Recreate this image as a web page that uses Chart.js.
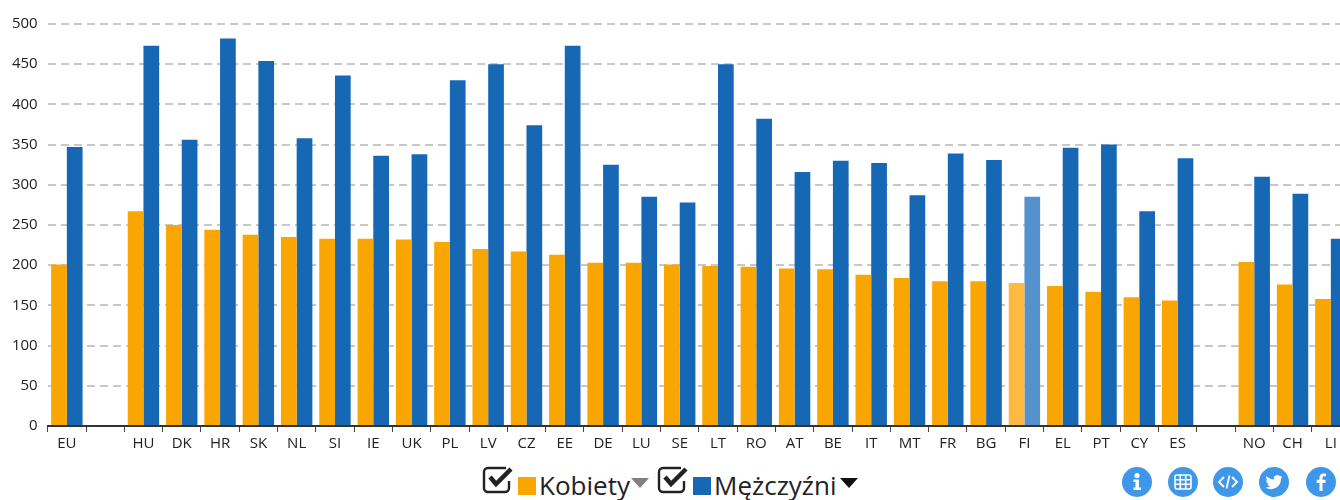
<!DOCTYPE html>
<html lang="pl">
<head>
<meta charset="utf-8">
<title>Kobiety i Mężczyźni</title>
<script src="https://cdn.jsdelivr.net/npm/chart.js@4"></script>
<style>
    html, body { margin: 0; padding: 0; background: #fff; }
    body { width: 1340px; height: 500px; overflow: hidden; position: relative; font-family: "Open Sans", sans-serif; color: #222; }
    #chart { position: absolute; left: 0; top: 0; }
    .abs { position: absolute; display: block; }
    .swatch { width: 18px; height: 18px; top: 477px; }
    .label { top: 467px; font-size: 26px; line-height: 36px; white-space: nowrap; }
    .tri { top: 478px; width: 0; height: 0; border-left: 9.5px solid transparent; border-right: 9.5px solid transparent; }
    .btn { top: 467px; width: 30px; height: 30px; }
</style>
</head>
<body>
<canvas id="chart" width="1350" height="462"></canvas>

<!-- legenda -->
<svg class="abs" style="left:482px;top:465px" width="33" height="30" viewBox="0 0 33 30">
    <path d="M27 16v7a4 4 0 0 1-4 4H6a4 4 0 0 1-4-4V7a4 4 0 0 1 4-4h18" fill="none" stroke="#222" stroke-width="2.4"/>
    <path d="M8 12l6 7L29 4" fill="none" stroke="#222" stroke-width="4.5"/>
</svg>
<span class="abs swatch" style="left:518px;background:#f9a602"></span>
<span class="abs label" style="left:539px">Kobiety</span>
<span class="abs tri" style="left:631px;border-top:10px solid #808080"></span>
<svg class="abs" style="left:657px;top:465px" width="33" height="30" viewBox="0 0 33 30">
    <path d="M27 16v7a4 4 0 0 1-4 4H6a4 4 0 0 1-4-4V7a4 4 0 0 1 4-4h18" fill="none" stroke="#222" stroke-width="2.4"/>
    <path d="M8 12l6 7L29 4" fill="none" stroke="#222" stroke-width="4.5"/>
</svg>
<span class="abs swatch" style="left:693px;background:#1668b5"></span>
<span class="abs label" style="left:714px">Mężczyźni</span>
<span class="abs tri" style="left:840px;border-top:10px solid #111"></span>

<!-- przyciski -->
<svg class="abs btn" style="left:1122px" viewBox="0 0 30 30">
    <circle cx="15" cy="15" r="15" fill="#3f97ea"/>
    <circle cx="15" cy="8.5" r="2.6" fill="#fff"/>
    <path d="M11.5 12.5h5.5v8h2v2.500h-7.500v-2.500h2v-5.500h-2z" fill="#fff"/>
</svg>
<svg class="abs btn" style="left:1168px" viewBox="0 0 30 30">
    <circle cx="15" cy="15" r="15" fill="#3f97ea"/>
    <rect x="7" y="8" width="16" height="14" rx="2" fill="none" stroke="#fff" stroke-width="1.600"/>
    <path d="M7 12.700h16M7 17.300h16M12.300 8v14M17.700 8v14" stroke="#fff" stroke-width="1.600"/>
</svg>
<svg class="abs btn" style="left:1213px" viewBox="0 0 30 30">
    <circle cx="15" cy="15" r="15" fill="#3f97ea"/>
    <path d="M11 10l-5 5 5 5M19 10l5 5-5 5M16.500 8.500l-3 13" fill="none" stroke="#fff" stroke-width="1.800"/>
</svg>
<svg class="abs btn" style="left:1259px" viewBox="0 0 30 30">
    <circle cx="15" cy="15" r="15" fill="#3f97ea"/>
    <path d="M23.500 9.800c-.7.300-1.300.5-2 .6.700-.4 1.300-1.100 1.500-1.900-.7.400-1.400.7-2.200.8a3.500 3.500 0 0 0-6 3.200c-2.900-.1-5.500-1.500-7.200-3.600-.9 1.600-.5 3.600 1.100 4.700-.6 0-1.100-.2-1.600-.4 0 1.700 1.200 3.100 2.800 3.500-.5.100-1 .1-1.600 0 .5 1.400 1.700 2.400 3.300 2.400A7 7 0 0 1 6.500 20.500a10 10 0 0 0 15.400-8.900c.6-.5 1.200-1.100 1.600-1.800z" fill="#fff"/>
</svg>
<svg class="abs btn" style="left:1306px" viewBox="0 0 30 30">
    <circle cx="15" cy="15" r="15" fill="#3f97ea"/>
    <path d="M16.500 24v-8h2.800l.4-3.200h-3.200v-2c0-.9.300-1.500 1.600-1.500H20V6.500c-.3 0-1.300-.1-2.400-.1-2.400 0-4.100 1.500-4.100 4.100v2.300h-2.800V16h2.800v8z" fill="#fff"/>
</svg>

<script>
// Dane
const categories = ['EU', '', 'HU', 'DK', 'HR', 'SK', 'NL', 'SI', 'IE', 'UK', 'PL', 'LV', 'CZ', 'EE', 'DE', 'LU', 'SE', 'LT', 'RO', 'AT', 'BE', 'IT', 'MT', 'FR', 'BG', 'FI', 'EL', 'PT', 'CY', 'ES', '', 'NO', 'CH', 'LI'];
const kobiety = [201, null, 267, 250, 244, 238, 235, 233, 233, 232, 229, 220, 217, 213, 203, 203, 201, 199, 198, 196, 195, 188, 184, 180, 180, 178, 174, 167, 160, 156, null, 204, 176, 158];
const mezczyzni = [347, null, 473, 356, 482, 454, 358, 436, 336, 338, 430, 450, 374, 473, 325, 285, 278, 450, 382, 316, 330, 327, 287, 339, 331, 285, 346, 350, 267, 333, null, 310, 289, 233];

const highlighted = 'FI';
const colorK = '#f9a602';
const colorM = '#1668b5';
const colorKLight = '#fdb942';
const colorMLight = '#5392cc';

function barColors(base, light) {
    return categories.map(c => c === highlighted ? light : base);
}

const config = {
    type: 'bar',
    data: {
        labels: categories,
        datasets: [
            { label: 'Kobiety', data: kobiety, backgroundColor: barColors(colorK, colorKLight) },
            { label: 'Mężczyźni', data: mezczyzni, backgroundColor: barColors(colorM, colorMLight) }
        ]
    },
    options: {
        responsive: false,
        animation: false,
        layout: { padding: { top: 24, left: 0, right: 0, bottom: 0 } },
        datasets: { bar: { categoryPercentage: 0.82, barPercentage: 1 } },
        plugins: {
            legend: { display: false },
            title: { display: false },
            tooltip: { enabled: false }
        },
        scales: {
            y: {
                min: 0,
                max: 500,
                afterFit: function (axis) { axis.width = 47.7; },
                grid: {
                    color: '#c8c8c8',
                    lineWidth: 2,
                    drawTicks: false
                },
                border: { display: false, dash: [8, 5] },
                ticks: {
                    stepSize: 50,
                    padding: 10,
                    color: '#222',
                    font: { size: 15, family: "'Open Sans', sans-serif" }
                }
            },
            x: {
                afterFit: function (axis) { axis.height = 36; },
                grid: {
                    drawOnChartArea: false,
                    color: '#444',
                    tickLength: 6
                },
                border: { display: true, color: '#333', width: 2 },
                ticks: {
                    autoSkip: false,
                    maxRotation: 0,
                    padding: 3,
                    color: '#222',
                    font: { size: 15, family: "'Open Sans', sans-serif" }
                }
            }
        }
    }
};

const chart = new Chart(document.getElementById('chart'), config);
</script>
</body>
</html>
